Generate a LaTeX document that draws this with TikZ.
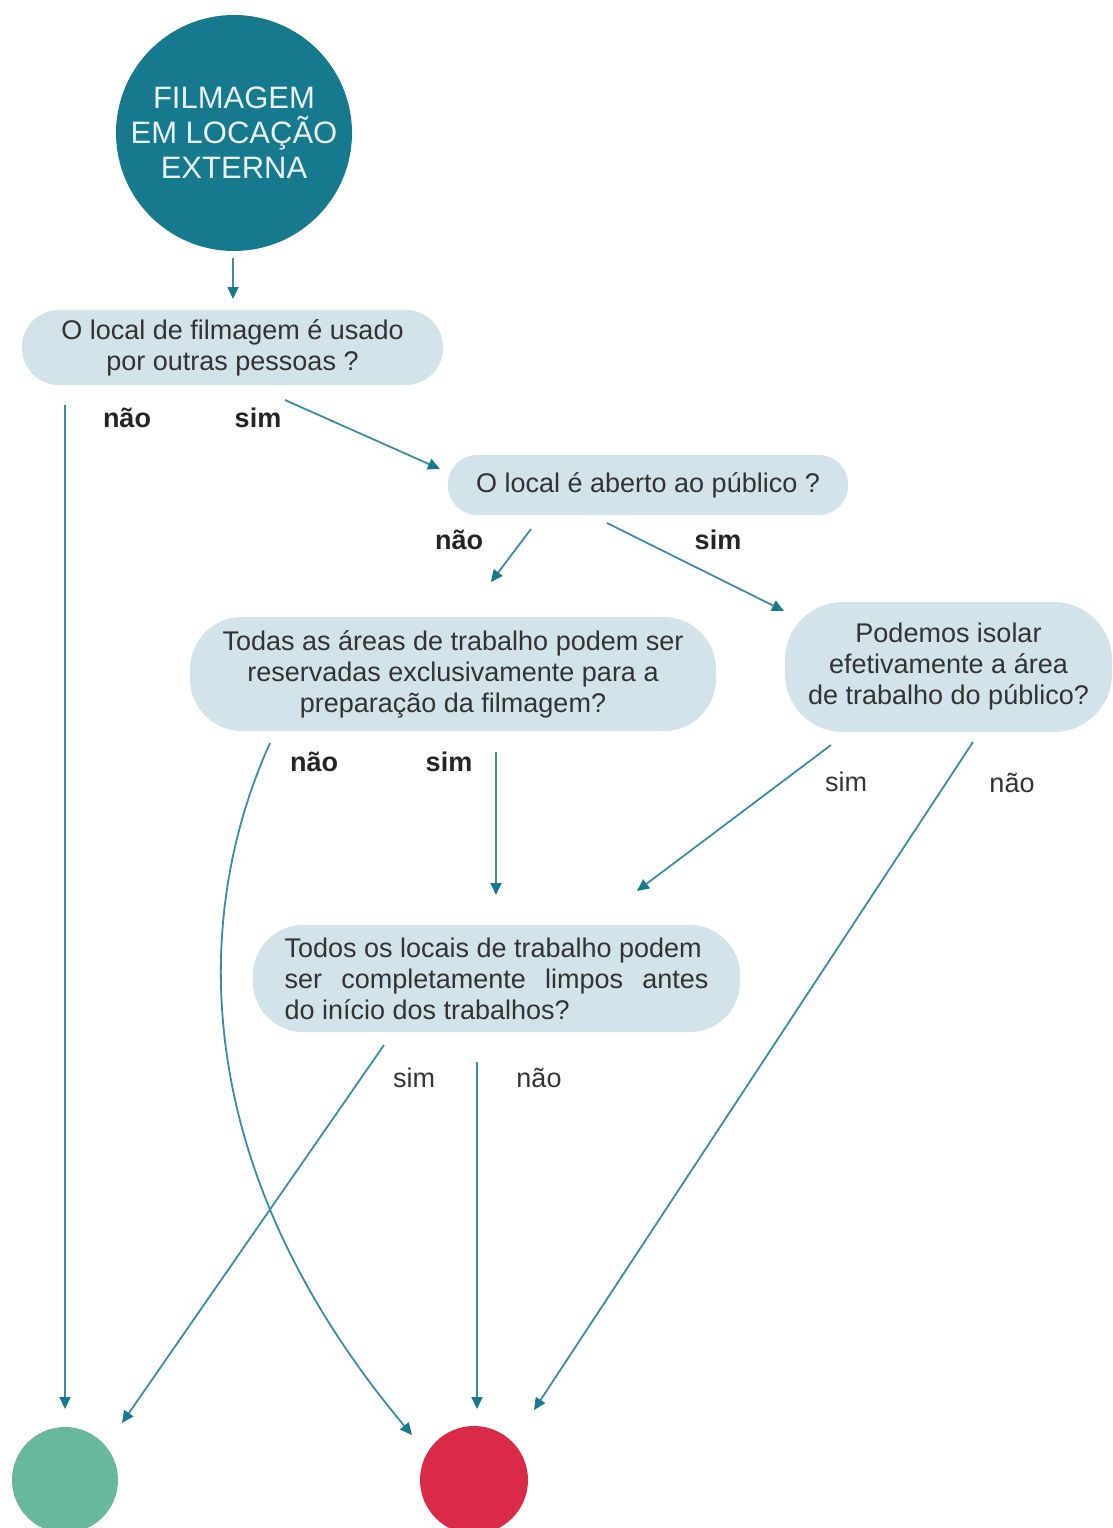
\documentclass[tikz,border=0pt]{standalone}
\usepackage{fontspec}
\setmainfont{Liberation Sans}
\usetikzlibrary{arrows.meta,calc}
\definecolor{tealc}{HTML}{17798D}
\definecolor{boxc}{HTML}{D2E3E9}
\definecolor{textc}{HTML}{333333}
\definecolor{linec}{HTML}{3A8CA6}
\definecolor{tipc}{HTML}{177A8C}
\definecolor{greenc}{HTML}{68B89C}
\definecolor{redc}{HTML}{D92A48}
\tikzset{
  qbox/.style={fill=boxc, inner sep=0pt, align=center, text=textc,
    font=\fontsize{27}{31}\selectfont},
  lab/.style={text=textc, inner sep=0pt, font=\fontsize{27}{31}\selectfont},
  labb/.style={text=textc!70!black, inner sep=0pt, font=\fontsize{27}{31}\selectfont\bfseries},
  arr/.style={draw=linec, line width=1.8pt, -{Triangle[length=12pt,width=11pt,color=tipc]}},
}
\begin{document}
\begin{tikzpicture}[x=1pt,y=-1pt]
\useasboundingbox (0,0) rectangle (1113,1528);

% start circle
\node[circle, fill=tealc, minimum size=236pt, inner sep=0pt, align=center,
  text=white!90!tealc, font=\fontsize{31}{35}\selectfont] (start) at (234,133)
  {FILMAGEM\\EM LOCAÇÃO\\EXTERNA};

% question boxes
\node[qbox, minimum width=421pt, minimum height=75pt, rounded corners=37pt] (b1) at (232.5,347.5)
  {O local de filmagem é usado\\por outras pessoas ?};
\node[qbox, minimum width=400pt, minimum height=60pt, rounded corners=29pt] (b2) at (648,485)
  {O local é aberto ao público ?};
\node[qbox, minimum width=526pt, minimum height=114pt, rounded corners=52pt] (b3) at (453,674)
  {Todas as áreas de trabalho podem ser\\reservadas exclusivamente para a\\preparação da filmagem?};
\node[qbox, minimum width=327pt, minimum height=130pt, rounded corners=58pt] (b4) at (948.5,667)
  {Podemos isolar\\efetivamente a área\\de trabalho do público?};
\node[qbox, minimum width=487pt, minimum height=107pt, rounded corners=50pt,
  text width=424pt, align=flush left] (b5) at (496.5,978.5)
  {Todos os locais de trabalho podem\\ser\hfill completamente\hfill limpos\hfill antes\\do início dos trabalhos?};

% end circles
\node[circle, fill=greenc, minimum size=106pt, inner sep=0pt] (ok) at (65,1480) {};
\node[circle, fill=redc, minimum size=108pt, inner sep=0pt] (ko) at (474,1480) {};

% labels
\node[labb] (l1n) at (127,418) {não};
\node[labb] (l1s) at (258,418) {sim};
\node[labb] (l2n) at (459,540) {não};
\node[labb] (l2s) at (718,540) {sim};
\node[labb] (l3n) at (314,762) {não};
\node[labb] (l3s) at (449,762) {sim};
\node[lab] (l4s) at (846,782) {sim};
\node[lab] (l4n) at (1012,783) {não};
\node[lab] (l5s) at (414,1078) {sim};
\node[lab] (l5n) at (539,1078) {não};

% connector end points
\coordinate (a0) at (233,258);  \coordinate (a1) at (233,299);
\coordinate (n1a) at (65,405);  \coordinate (n1b) at (65,1409);
\coordinate (s1a) at (285,400); \coordinate (s1b) at (440,469);
\coordinate (n2a) at (531,529); \coordinate (n2b) at (491,582);
\coordinate (s2a) at (607,523); \coordinate (s2b) at (784,611);
\coordinate (n3a) at (270,743); \coordinate (n3b) at (412,1435);
\coordinate (s3a) at (496,752); \coordinate (s3b) at (496,895);
\coordinate (s4a) at (831,745); \coordinate (s4b) at (637,891);
\coordinate (n4a) at (973,742); \coordinate (n4b) at (534,1410);
\coordinate (s5a) at (384,1045);\coordinate (s5b) at (122,1423);
\coordinate (n5a) at (477,1062);\coordinate (n5b) at (477,1409);

\draw[arr] (a0) -- (a1);
\draw[arr] (n1a) -- (n1b);
\draw[arr] (s1a) -- (s1b);
\draw[arr] (n2a) -- (n2b);
\draw[arr] (s2a) -- (s2b);
\draw[arr] (n3a) .. controls (190,920) and (190,1170) .. (n3b);
\draw[arr] (s3a) -- (s3b);
\draw[arr] (s4a) -- (s4b);
\draw[arr] (n4a) -- (n4b);
\draw[arr] (s5a) -- (s5b);
\draw[arr] (n5a) -- (n5b);
\end{tikzpicture}
\end{document}
